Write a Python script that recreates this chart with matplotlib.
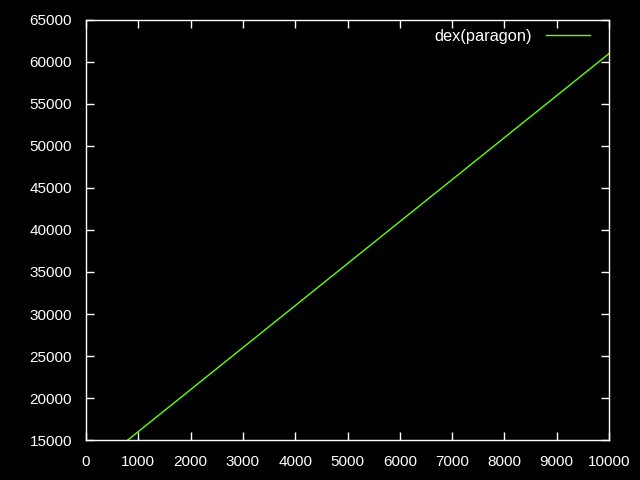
import matplotlib
matplotlib.use('Agg')
import matplotlib.pyplot as plt

# data
paragon = [0, 2000, 4000, 6000, 8000, 10000]
dex = [11000, 21000, 31000, 41000, 51000, 61000]

plt.rcParams['font.family'] = ['Liberation Sans', 'DejaVu Sans']

fig = plt.figure(figsize=(6.4, 4.8), dpi=100, facecolor='black')
ax = fig.add_axes([86 / 640, 40 / 480, 523 / 640, 420 / 480])
ax.set_facecolor('black')

ax.plot(paragon, dex, color='#66ff00', lw=1, label='dex(paragon)')

ax.set_xlim(0, 10000)
ax.set_ylim(15000, 65000)
ax.set_xticks(range(0, 10001, 1000))
ax.set_yticks(range(15000, 65001, 5000))

for s in ax.spines.values():
    s.set_color('white')
    s.set_linewidth(1)
ax.tick_params(direction='in', colors='white', labelcolor='white', length=6,
               width=1, top=True, right=True, labelsize=11)
ax.tick_params(axis='x', pad=11)
ax.tick_params(axis='y', pad=10)

leg = ax.legend(loc='upper right', bbox_to_anchor=(1, 1 + 10 / 420),
                frameon=False, fontsize=11.8, markerfirst=False,
                handlelength=2.7, borderaxespad=0.75, handletextpad=0.85)
for t in leg.get_texts():
    t.set_color('white')

fig.savefig('out.png', dpi=100, facecolor='black')
